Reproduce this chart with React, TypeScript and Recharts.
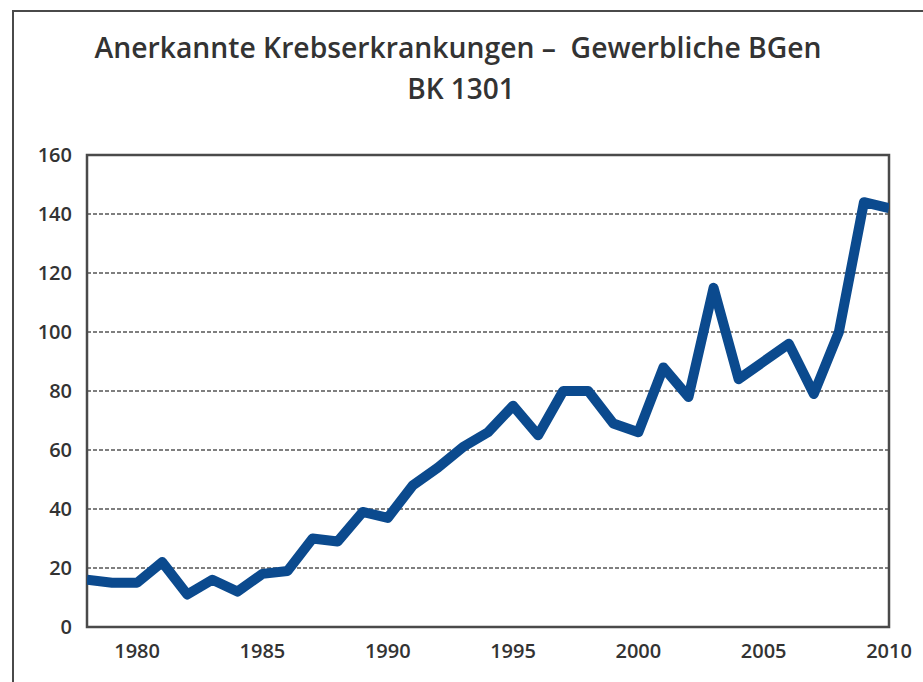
import React from 'react';
import { LineChart, Line, XAxis, YAxis, CartesianGrid, ReferenceArea } from 'recharts';

const years = [1978, 1979, 1980, 1981, 1982, 1983, 1984, 1985, 1986, 1987, 1988, 1989, 1990, 1991, 1992, 1993, 1994, 1995, 1996, 1997, 1998, 1999, 2000, 2001, 2002, 2003, 2004, 2005, 2006, 2007, 2008, 2009, 2010];
const cases = [16, 15, 15, 22, 11, 16, 12, 18, 19, 30, 29, 39, 37, 48, 54, 61, 66, 75, 65, 80, 80, 69, 66, 88, 78, 115, 84, 90, 96, 79, 100, 144, 142];
const yTicks = [0, 20, 40, 60, 80, 100, 120, 140, 160];
const xTicks = [1980, 1985, 1990, 1995, 2000, 2005, 2010];
const titleLine1 = 'Anerkannte Krebserkrankungen –  Gewerbliche BGen';
const titleLine2 = 'BK 1301';

const data = years.map((y, i) => ({ year: y, value: cases[i] }));

const tickStyle = { fontSize: 20, fontWeight: 600, fill: '#333', fontFamily: '"Open Sans", sans-serif' };

export default function App() {
  return (
    <div style={{ position: 'absolute', left: 0, top: 0, width: 923, height: 682, overflow: 'hidden', background: '#fff', fontFamily: '"Open Sans", sans-serif' }}>
      <div style={{ position: 'absolute', left: 12, top: 10, width: 960, height: 720, border: '2px solid #4a4a4a' }} />
      <svg style={{ position: 'absolute', left: 0, top: 0 }} width={923} height={140}>
        <text x={458} y={58} textAnchor="middle" fontSize={28} fontWeight={600} fill="#333" textLength={727} lengthAdjust="spacingAndGlyphs" style={{ whiteSpace: 'pre' }}>{titleLine1}</text>
        <text x={461} y={99} textAnchor="middle" fontSize={28} fontWeight={600} fill="#333">{titleLine2}</text>
      </svg>
      <div style={{ position: 'absolute', left: 0, top: 0 }}>
        <LineChart width={923} height={682} data={data} margin={{ top: 155, right: 34, bottom: 0, left: 0 }}>
          <CartesianGrid vertical={false} horizontal={true} stroke="#555" strokeWidth={1.5} strokeDasharray="4 2" />
          <XAxis dataKey="year" type="number" domain={[1978, 2010]} ticks={xTicks} height={55} tickSize={0} tickMargin={17} axisLine={false} tickLine={false} tick={tickStyle} allowDataOverflow />
          <YAxis type="number" domain={[0, 160]} ticks={yTicks} width={87} tickSize={0} tickMargin={15} axisLine={false} tickLine={false} tick={tickStyle} />
          <ReferenceArea x1={1978} x2={2010} y1={0} y2={160} fill="none" fillOpacity={0} stroke="#4a4a4a" strokeWidth={2.5} ifOverflow="visible" />
          <Line type="linear" dataKey="value" stroke="#0b4a8e" strokeWidth={10} dot={false} strokeLinejoin="round" isAnimationActive={false} />
        </LineChart>
      </div>
    </div>
  );
}
